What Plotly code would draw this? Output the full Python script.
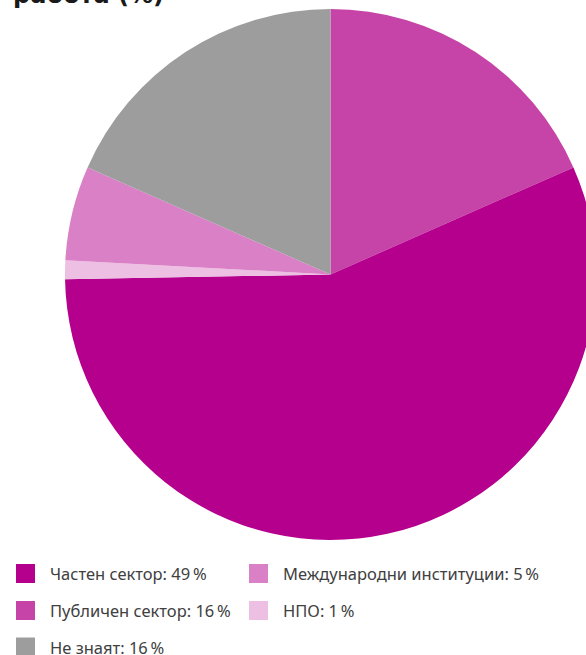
import plotly.graph_objects as go

# Data
labels = ["Публичен сектор", "Частен сектор", "НПО", "Международни институции", "Не знаят"]
values = [16, 49, 1, 5, 16]
colors = ["#C643A8", "#B5008E", "#EDBFE3", "#DA80C6", "#9D9D9D"]
legend_order = ["Частен сектор", "Публичен сектор", "Не знаят", "Международни институции", "НПО"]
title_text = "работа (%)"

W, H = 600, 655

def px(x):
    return x / W

def py(y):
    return 1 - y / H

fig = go.Figure()
fig.add_trace(go.Pie(
    labels=labels, values=values, sort=False, direction="clockwise", rotation=0,
    marker=dict(colors=colors, line=dict(width=0)),
    textinfo="none", hoverinfo="label+value", showlegend=False,
    domain=dict(x=[px(65), px(596)], y=[py(540), py(9)]),
))

shapes = []
annotations = []
col_x = [16, 249]
row_y = [573.5, 610.5, 647]
sq = 19
for i, name in enumerate(legend_order):
    c, r = divmod(i, 3)
    idx = labels.index(name)
    x0 = col_x[c]
    yc = row_y[r]
    shapes.append(dict(type="rect", xref="paper", yref="paper",
                       x0=px(x0), x1=px(x0 + sq), y0=py(yc + sq / 2), y1=py(yc - sq / 2),
                       fillcolor=colors[idx], line=dict(width=0)))
    annotations.append(dict(xref="paper", yref="paper", x=px(x0 + 32), y=py(yc),
                            xanchor="left", yanchor="middle", showarrow=False,
                            text=f"{name}: {values[idx]}\u202f%",
                            font=dict(family="Noto Sans", size=16.5, color="#404040")))

annotations.append(dict(xref="paper", yref="paper", x=px(11), y=py(11), xanchor="left", yanchor="bottom",
                        showarrow=False, text=f"<b>{title_text}</b>",
                        font=dict(family="DejaVu Sans", size=24, color="#1a1a1a")))

fig.update_layout(width=W, height=H, margin=dict(l=0, r=0, t=0, b=0),
                  paper_bgcolor="white", plot_bgcolor="white",
                  shapes=shapes, annotations=annotations)

fig.write_html("out.html", config={"displayModeBar": False},
               post_script="document.body.style.margin='0';document.body.style.overflow='hidden';")
